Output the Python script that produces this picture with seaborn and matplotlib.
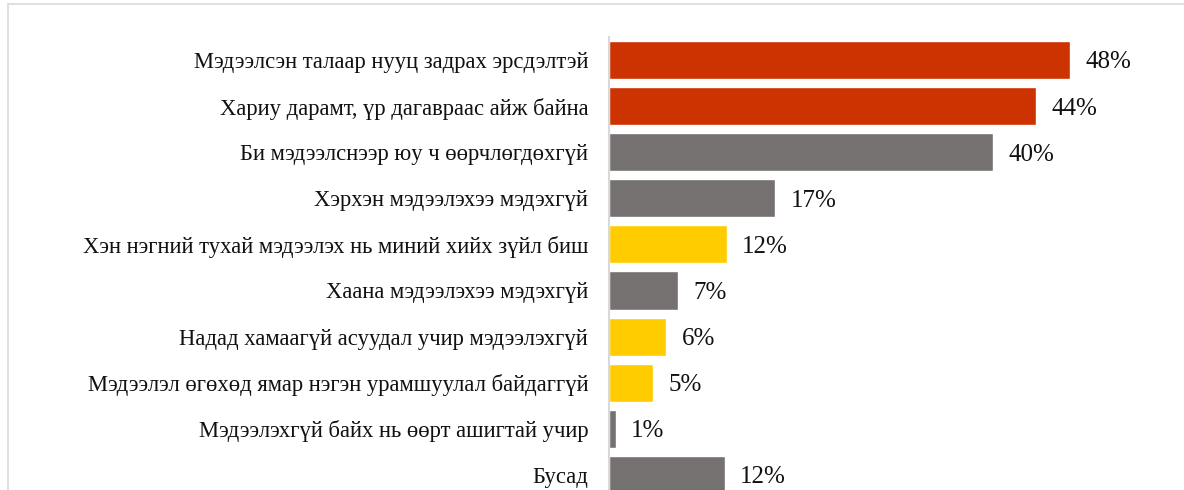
import matplotlib
matplotlib.use("Agg")
import matplotlib.pyplot as plt
import seaborn as sns
from matplotlib.patches import Rectangle

categories = [
    "Мэдээлсэн талаар нууц задрах эрсдэлтэй",
    "Хариу дарамт, үр дагавраас айж байна",
    "Би мэдээлснээр юу ч өөрчлөгдөхгүй",
    "Хэрхэн мэдээлэхээ мэдэхгүй",
    "Хэн нэгний тухай мэдээлэх нь миний хийх зүйл биш",
    "Хаана мэдээлэхээ мэдэхгүй",
    "Надад хамаагүй асуудал учир мэдээлэхгүй",
    "Мэдээлэл өгөхөд ямар нэгэн урамшуулал байдаггүй",
    "Мэдээлэхгүй байх нь өөрт ашигтай учир",
    "Бусад",
]
values = [47.8, 44.2, 39.8, 17.2, 12.2, 7.1, 5.9, 4.6, 0.7, 12.0]
value_labels = ["48%", "44%", "40%", "17%", "12%", "7%", "6%", "5%", "1%", "12%"]
red, gray, yellow = "#CC3300", "#767171", "#FFCC00"
bar_colors = [red, red, gray, gray, yellow, gray, yellow, yellow, gray, gray]

sns.set_style("white")
plt.rcParams["font.family"] = ["Liberation Serif", "DejaVu Serif"]

fig = plt.figure(figsize=(11.84, 4.9), dpi=100)
ax = fig.add_axes([609 / 1184, -0.0163, 531 / 1184, 0.941])

sns.barplot(x=values, y=categories, hue=categories, palette=bar_colors,
            legend=False, orient="h", width=0.826, saturation=1, ax=ax)

ax.set_xlim(0, 55)
ax.set_ylim(9.5, -0.5)
ax.set_xlabel("")
ax.set_ylabel("")
ax.set_xticks([])
ax.tick_params(axis="y", length=0, pad=15, labelsize=16.3, labelcolor="#111111")
for s in ["top", "right", "bottom"]:
    ax.spines[s].set_visible(False)
ax.spines["left"].set_color("#D9D9D9")
ax.spines["left"].set_linewidth(1.5)

for i, (v, lab) in enumerate(zip(values, value_labels)):
    ax.text(v + 1.6, i, lab, va="center_baseline", ha="left",
            fontsize=18, color="#111111")

# outer chart frame (only top and left edge visible)
fig.patches.append(Rectangle((8 / 1184, -0.5), 2.0, 0.5 + 1 - 4 / 490,
                             transform=fig.transFigure, fill=False,
                             edgecolor="#D9D9D9", linewidth=1.2))

fig.savefig("out.png", dpi=100)
